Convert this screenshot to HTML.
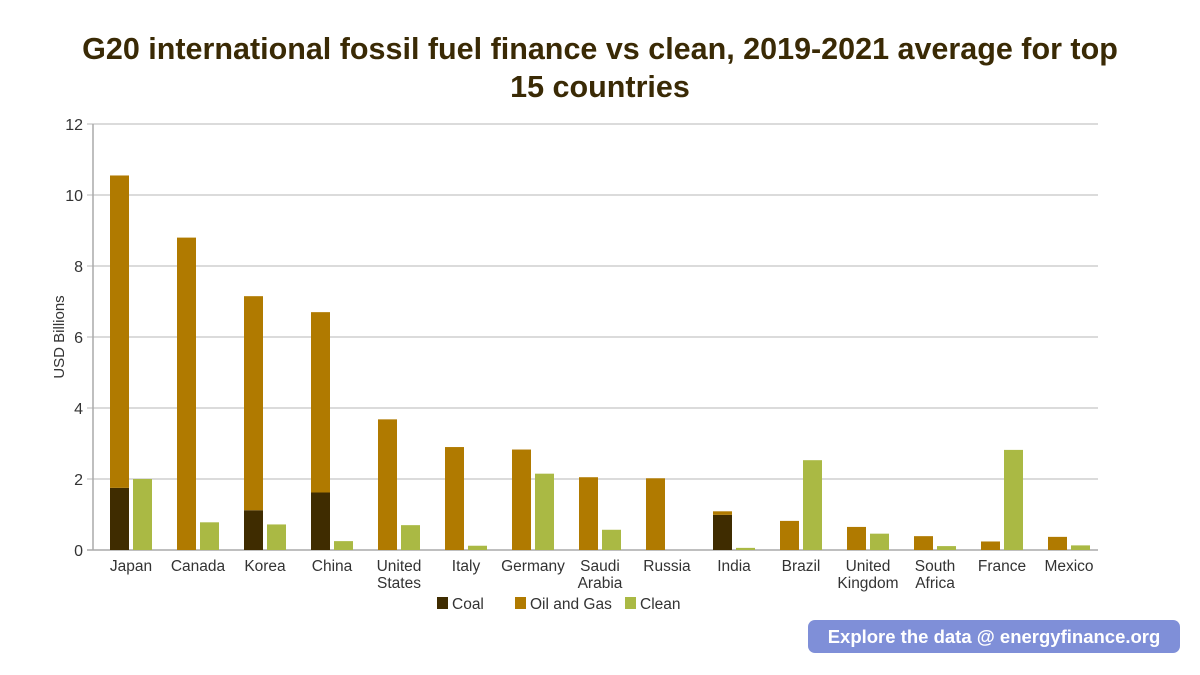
<!DOCTYPE html>
<html><head><meta charset="utf-8"><style>
body{margin:0;background:#fff;width:1200px;height:675px;overflow:hidden;font-family:"Liberation Sans",sans-serif}
#title{position:absolute;top:30px;left:0;width:1200px;text-align:center;font-weight:bold;font-size:30.5px;line-height:38px;color:#3a2a05;letter-spacing:0}
#badge{position:absolute;left:808px;top:620px;width:372px;height:33px;background:#7f8fd8;border-radius:7px;color:#fff;font-weight:bold;font-size:18.5px;line-height:33px;text-align:center}
</style></head><body>
<div id="title">G20 international fossil fuel finance vs clean, 2019-2021 average for top<br>15 countries</div>
<svg id="chart" width="1200" height="675" style="position:absolute;left:0;top:0"></svg>
<div id="badge">Explore the data @ energyfinance.org</div>
<script>
const categories=[["Japan"],["Canada"],["Korea"],["China"],["United","States"],["Italy"],["Germany"],["Saudi","Arabia"],["Russia"],["India"],["Brazil"],["United","Kingdom"],["South","Africa"],["France"],["Mexico"]];
const coal=[1.75,0,1.12,1.62,0,0,0,0,0,0.99,0,0,0,0,0];
const oilGas=[8.8,8.8,6.03,5.08,3.68,2.9,2.83,2.05,2.02,0.1,0.82,0.65,0.39,0.24,0.37];
const clean=[2.0,0.78,0.72,0.25,0.7,0.12,2.15,0.57,0,0.06,2.53,0.46,0.11,2.82,0.13];
const yTicks=[0,2,4,6,8,10,12];
const NS="http://www.w3.org/2000/svg";
const svg=document.getElementById('chart');
const X0=93,X1=1098,Y0=550,Y12=124;
const band=(X1-X0)/categories.length;
const y=v=>Y0-(v/12)*(Y0-Y12);
const bx=i=>X0+i*band+17;
function mk(t,a){const e=document.createElementNS(NS,t);for(const k in a)e.setAttribute(k,a[k]);svg.appendChild(e);return e;}
yTicks.forEach(t=>{
 const l=mk('line',{x1:X0-6,x2:X1,y1:y(t),y2:y(t),stroke:t===0?'#aaa':'#cfcfcf','stroke-width':1.5});
 
 
 const tx=mk('text',{x:X0-10,y:y(t)+6,'text-anchor':'end','font-size':16,fill:'#333'});
 tx.textContent=t;
 
 
});
const ax=mk('line',{x1:X0,x2:X0,y1:Y12,y2:Y0,stroke:'#aaa','stroke-width':1.5});


const yt=mk('text',{x:0,y:0,transform:'translate(64,337) rotate(-90)','text-anchor':'middle','font-size':15,fill:'#333'});
yt.textContent='USD Billions';


const W=19;
categories.forEach((c,i)=>{
 const x=bx(i);
 if(coal[i]>0){const r=mk('rect',{x:x,y:y(coal[i]),width:W,height:Y0-y(coal[i]),fill:'#3f2c00'});
  
  }
 const top=coal[i]+oilGas[i];
 const o=mk('rect',{x:x,y:y(top),width:W,height:y(coal[i])-y(top),fill:'#b07a00'});
 
 
 if(clean[i]>0){const g=mk('rect',{x:x+W+4,y:y(clean[i]),width:W,height:Y0-y(clean[i]),fill:'#aab944'});
  
  }
 const cx=x+W+2;
 c.forEach((ln,j)=>{const t=mk('text',{x:cx,y:571+j*17,'text-anchor':'middle','font-size':15.5,fill:'#333'});
  t.textContent=ln;
  
  });
});
const legend=[['Coal','#3f2c00',437],['Oil and Gas','#b07a00',515],['Clean','#aab944',625]];
legend.forEach(([n,col,lx])=>{
 const r=mk('rect',{x:lx,y:597,width:11,height:12,fill:col});
 
 
 const t=mk('text',{x:lx+15,y:609,'font-size':15.5,fill:'#333'});
 t.textContent=n;
 
 
});
</script>
</body></html>
